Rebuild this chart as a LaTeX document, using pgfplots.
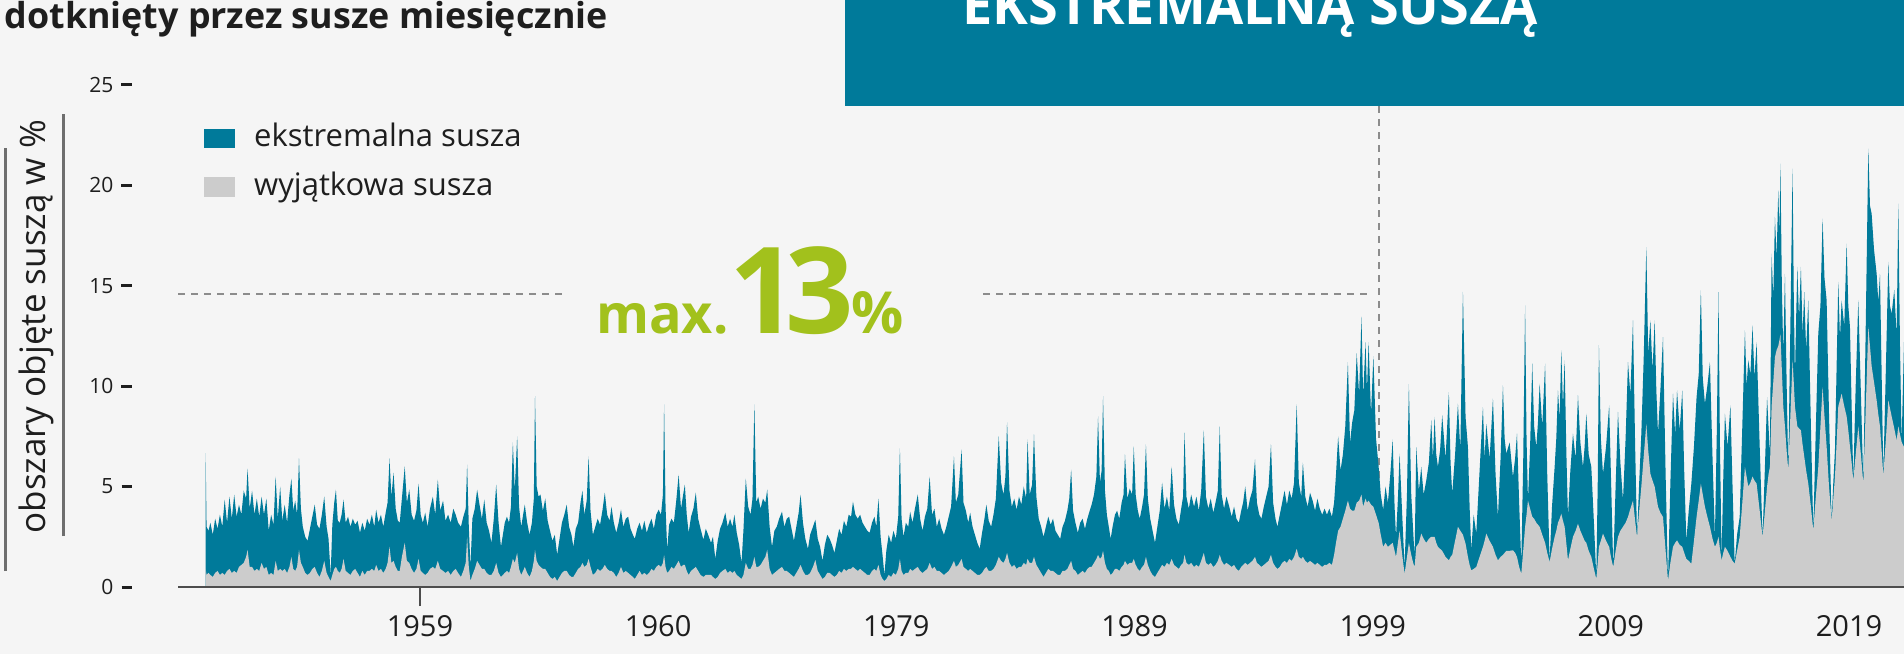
\documentclass[border=0pt]{standalone}
\usepackage{fontspec}
\setmainfont{Open Sans}
\usepackage{pgfplots}
\pgfplotsset{compat=1.18}
\usepackage{pgfplotstable}
\definecolor{bgc}{HTML}{F5F5F5}
\definecolor{tealc}{HTML}{007A9A}
\definecolor{grayc}{HTML}{CCCCCC}
\definecolor{axisc}{HTML}{4D4D4D}
\definecolor{textc}{HTML}{1E1E1E}
\definecolor{dashc}{HTML}{8C8C8C}
\definecolor{greenc}{HTML}{A2C11C}
\definecolor{vlinec}{HTML}{6E6E6E}
\pgfplotstableread{
x top bot
1950.00 6.67 0.9
1950.04 3.0 0.6
1950.12 2.8 0.7
1950.2 3.2 0.6
1950.3 2.6 0.5
1950.4 3.4 0.7
1950.5 2.9 0.8
1950.6 3.6 0.6
1950.7 3.0 0.7
1950.8 4.35 0.6
1950.9 3.2 0.8
1951.0 4.5 0.9
1951.1 3.4 0.7
1951.2 4.6 0.8
1951.3 3.5 0.7
1951.4 4.1 1.0
1951.5 3.6 1.1
1951.6 4.8 1.2
1951.7 4.4 1.5
1951.76 5.9 1.85
1951.85 3.9 1.0
1951.95 4.8 1.0
1952.05 3.6 0.8
1952.15 4.4 0.9
1952.25 3.5 0.8
1952.35 4.5 1.2
1952.45 3.6 0.9
1952.55 4.4 1.0
1952.65 2.8 0.6
1952.75 3.6 0.7
1952.85 3.1 0.6
1952.94 5.5 1.3
1953.03 3.4 0.8
1953.13 5.0 0.9
1953.22 3.3 0.8
1953.32 4.1 0.9
1953.42 3.2 0.7
1953.52 4.6 1.0
1953.6 5.4 1.5
1953.68 3.8 0.9
1953.76 4.3 0.8
1953.84 3.6 1.0
1953.92 6.4 1.85
1954.0 3.9 1.2
1954.08 3.0 1.0
1954.18 2.5 0.7
1954.28 2.3 0.6
1954.38 2.9 0.7
1954.48 3.5 0.9
1954.58 4.1 1.0
1954.68 3.1 0.7
1954.78 2.9 0.5
1954.88 3.6 0.8
1954.98 4.5 1.3
1955.08 3.0 0.7
1955.16 2.4 0.5
1955.25 0.6 0.3
1955.32 3.1 0.6
1955.4 4.2 0.9
1955.47 4.85 1.0
1955.55 3.3 0.8
1955.63 3.2 0.7
1955.71 3.6 0.9
1955.79 4.35 1.4
1955.88 3.2 0.8
1955.98 3.5 0.7
1956.08 3.0 0.6
1956.18 3.4 0.8
1956.28 3.1 0.9
1956.38 3.3 0.7
1956.48 2.7 0.5
1956.58 3.2 0.8
1956.68 2.8 0.6
1956.78 3.4 0.8
1956.88 3.1 0.8
1956.98 3.6 0.9
1957.08 3.0 0.8
1957.16 3.85 1.1
1957.26 3.2 0.8
1957.36 3.6 0.9
1957.46 3.0 0.7
1957.56 3.7 0.9
1957.64 4.2 1.2
1957.72 6.4 2.0
1957.8 4.5 1.2
1957.89 5.7 1.3
1957.98 3.9 1.0
1958.07 3.3 0.8
1958.15 3.2 0.8
1958.24 4.4 1.5
1958.36 6.0 2.2
1958.45 4.2 1.3
1958.55 4.85 1.2
1958.65 3.6 0.9
1958.75 3.3 0.7
1958.85 3.8 0.9
1958.94 5.15 1.4
1959.03 3.6 0.8
1959.12 3.2 0.7
1959.22 3.7 0.6
1959.32 3.0 0.7
1959.42 3.9 0.9
1959.54 4.5 1.0
1959.64 3.6 0.9
1959.75 5.35 1.3
1959.85 3.8 0.9
1959.97 4.3 0.8
1960.07 3.3 0.7
1960.18 3.6 0.8
1960.29 3.2 0.6
1960.4 3.9 0.8
1960.5 3.6 0.9
1960.6 3.2 0.7
1960.72 3.0 0.5
1960.82 3.5 0.8
1960.92 3.9 1.2
1960.98 6.1 2.5
1961.05 3.0 1.0
1961.12 1.0 0.3
1961.2 3.4 0.6
1961.3 3.9 0.9
1961.4 4.85 1.3
1961.5 4.1 1.1
1961.6 3.4 0.9
1961.7 4.35 0.9
1961.8 3.2 0.7
1961.9 2.8 0.6
1962.0 2.2 0.6
1962.1 3.4 0.8
1962.2 5.1 1.2
1962.3 3.2 0.7
1962.4 2.0 0.5
1962.48 2.6 0.6
1962.56 3.2 0.7
1962.65 3.5 0.8
1962.74 3.2 0.7
1962.82 4.0 1.0
1962.9 7.2 1.4
1962.98 4.8 1.2
1963.08 7.5 1.7
1963.16 4.0 0.9
1963.25 3.0 0.6
1963.33 3.6 0.8
1963.4 4.1 1.0
1963.5 3.2 0.7
1963.6 2.6 0.5
1963.7 3.2 0.8
1963.78 4.4 1.3
1963.83 9.5 1.85
1963.9 5.0 1.3
1963.98 4.5 1.1
1964.06 4.6 1.0
1964.16 3.8 0.9
1964.26 4.4 0.9
1964.36 3.3 0.7
1964.46 2.8 0.5
1964.56 2.3 0.4
1964.66 2.6 0.5
1964.76 1.6 0.3
1964.86 2.4 0.5
1964.96 3.2 0.7
1965.06 3.6 0.8
1965.16 4.1 0.8
1965.26 3.0 0.6
1965.36 2.6 0.5
1965.44 2.0 0.5
1965.54 2.9 0.7
1965.64 3.2 0.9
1965.74 4.2 1.0
1965.82 4.8 1.2
1965.9 3.6 1.0
1966.0 4.3 1.1
1966.08 6.5 1.4
1966.16 3.8 1.0
1966.26 2.6 0.6
1966.36 3.0 0.7
1966.46 3.4 0.9
1966.56 3.1 0.8
1966.66 3.8 0.9
1966.76 4.7 1.1
1966.86 3.6 0.9
1966.96 3.3 0.8
1967.04 4.0 0.8
1967.14 3.2 0.7
1967.24 2.7 0.5
1967.34 3.2 0.7
1967.44 3.85 1.0
1967.54 3.0 0.7
1967.64 3.4 0.8
1967.74 3.5 0.7
1967.84 2.9 0.6
1967.94 2.6 0.5
1968.02 2.4 0.4
1968.12 2.9 0.6
1968.22 3.2 0.8
1968.32 2.8 0.6
1968.42 3.3 0.7
1968.52 2.7 0.6
1968.62 3.1 0.7
1968.72 3.4 0.9
1968.82 2.9 0.8
1968.92 3.6 1.0
1969.02 3.85 1.1
1969.12 3.6 1.0
1969.2 4.6 1.2
1969.25 9.1 1.6
1969.31 4.0 1.0
1969.38 1.85 0.7
1969.46 3.1 0.8
1969.56 3.4 1.0
1969.66 3.2 0.9
1969.76 4.3 1.1
1969.86 5.6 1.3
1969.96 3.9 1.0
1970.05 4.6 1.1
1970.12 5.1 1.1
1970.2 3.6 0.8
1970.28 2.7 0.6
1970.38 3.5 0.8
1970.48 3.9 0.9
1970.58 4.7 1.0
1970.68 3.4 0.8
1970.78 2.9 0.6
1970.9 2.35 0.5
1971.0 2.9 0.6
1971.1 2.6 0.6
1971.22 2.2 0.6
1971.3 2.5 0.5
1971.4 1.4 0.4
1971.5 2.3 0.5
1971.6 2.9 0.7
1971.7 3.2 0.8
1971.82 3.7 0.9
1971.92 3.0 0.7
1972.02 3.4 0.8
1972.12 3.0 0.7
1972.2 3.6 0.8
1972.3 2.7 0.6
1972.4 2.1 0.5
1972.5 1.2 0.4
1972.58 2.8 0.6
1972.68 5.4 1.2
1972.78 4.0 0.9
1972.88 3.6 0.9
1972.96 4.4 1.1
1973.04 9.1 1.5
1973.12 4.2 1.0
1973.2 4.5 1.0
1973.3 3.9 1.1
1973.4 4.4 1.3
1973.5 4.2 1.5
1973.58 4.85 1.85
1973.68 3.0 0.9
1973.78 2.0 0.6
1973.88 2.8 0.7
1973.98 3.0 0.8
1974.08 3.4 0.9
1974.2 3.75 1.0
1974.3 3.0 0.8
1974.4 3.4 0.8
1974.5 3.5 0.7
1974.6 2.9 0.6
1974.7 2.3 0.5
1974.8 3.0 0.7
1974.9 3.7 0.9
1974.98 4.6 1.1
1975.08 3.2 0.8
1975.18 2.4 0.6
1975.29 1.9 0.6
1975.38 2.6 0.7
1975.5 3.0 1.0
1975.6 3.35 1.35
1975.7 2.4 0.8
1975.8 2.0 0.6
1975.9 1.3 0.4
1976.0 2.1 0.5
1976.1 2.6 0.7
1976.2 2.4 0.7
1976.3 2.1 0.6
1976.4 1.7 0.5
1976.5 2.3 0.6
1976.6 2.9 0.8
1976.7 2.6 0.7
1976.8 3.3 0.9
1976.9 3.0 0.8
1977.0 3.6 0.9
1977.1 3.5 0.9
1977.18 4.25 1.0
1977.28 3.6 0.9
1977.38 3.4 0.8
1977.48 3.6 0.9
1977.58 3.2 0.8
1977.68 3.0 0.7
1977.78 2.8 0.6
1977.88 2.7 0.6
1977.98 3.2 0.8
1978.08 3.5 0.9
1978.16 3.0 0.8
1978.25 4.4 1.1
1978.34 2.5 0.6
1978.42 1.6 0.4
1978.5 0.6 0.3
1978.58 1.8 0.4
1978.68 2.6 0.6
1978.78 2.2 0.5
1978.88 2.8 0.7
1978.98 2.4 0.6
1979.08 3.5 0.9
1979.15 6.9 1.4
1979.22 3.4 0.8
1979.3 2.5 0.6
1979.4 3.2 0.7
1979.5 3.0 0.7
1979.58 3.75 0.9
1979.68 3.2 0.8
1979.78 3.9 0.9
1979.9 4.6 1.0
1980.0 3.4 0.8
1980.1 2.8 0.7
1980.2 3.5 0.8
1980.3 3.9 0.9
1980.4 5.5 1.2
1980.5 3.6 0.9
1980.6 3.9 1.0
1980.7 3.0 0.8
1980.8 3.4 0.8
1980.9 2.9 0.7
1981.0 2.6 0.6
1981.1 3.0 0.7
1981.2 3.5 0.8
1981.3 4.0 1.0
1981.42 6.5 1.3
1981.5 4.2 1.0
1981.6 4.6 1.1
1981.74 6.85 1.4
1981.82 4.2 1.0
1981.92 3.8 0.9
1982.02 3.2 0.8
1982.1 3.7 0.9
1982.2 3.0 0.8
1982.3 2.6 0.7
1982.4 2.2 0.6
1982.5 1.9 0.6
1982.6 2.7 0.7
1982.7 3.4 0.9
1982.78 4.1 1.0
1982.88 3.3 0.8
1982.98 3.0 0.8
1983.08 3.6 0.9
1983.18 4.4 1.1
1983.3 7.5 1.5
1983.4 5.2 1.3
1983.5 4.6 1.2
1983.58 5.5 1.4
1983.65 8.2 1.7
1983.75 4.8 1.2
1983.85 4.0 1.0
1983.95 4.4 1.1
1984.05 3.85 0.9
1984.15 4.5 1.0
1984.25 4.1 1.0
1984.35 5.0 1.2
1984.45 4.4 1.1
1984.51 7.35 1.4
1984.6 4.6 1.2
1984.7 5.1 1.2
1984.78 7.6 1.5
1984.88 4.5 1.1
1984.98 3.4 0.9
1985.08 3.0 0.7
1985.18 2.5 0.5
1985.28 3.0 0.7
1985.38 3.5 0.9
1985.48 3.1 0.8
1985.58 3.4 0.8
1985.68 2.8 0.7
1985.78 2.6 0.6
1985.88 2.4 0.6
1985.98 3.0 0.8
1986.08 3.3 0.8
1986.18 3.8 0.9
1986.26 4.4 1.1
1986.34 5.85 1.3
1986.42 3.8 0.9
1986.52 3.2 0.8
1986.62 2.7 0.6
1986.72 3.2 0.7
1986.82 3.4 0.8
1986.92 2.9 0.7
1987.02 3.4 0.9
1987.12 3.8 1.0
1987.2 4.1 1.0
1987.3 4.6 1.2
1987.4 5.5 1.4
1987.47 8.5 1.6
1987.55 5.2 1.4
1987.62 5.8 1.5
1987.68 9.5 1.8
1987.76 4.8 1.2
1987.84 3.6 0.9
1987.92 3.0 0.8
1988.0 2.4 0.6
1988.08 3.0 0.7
1988.18 3.6 0.9
1988.27 3.8 0.9
1988.36 3.4 0.8
1988.46 4.2 1.0
1988.54 4.6 1.1
1988.6 6.6 1.3
1988.7 4.4 1.1
1988.8 4.9 1.2
1988.9 4.6 1.2
1988.97 7.0 1.4
1989.05 4.6 1.1
1989.14 3.8 0.9
1989.22 3.4 0.8
1989.32 4.0 1.0
1989.4 4.6 1.1
1989.48 7.1 1.5
1989.56 4.4 1.1
1989.66 3.4 0.8
1989.76 2.8 0.6
1989.86 2.2 0.5
1989.96 3.0 0.7
1990.06 3.8 0.9
1990.16 5.2 1.1
1990.26 3.9 1.0
1990.36 4.5 1.2
1990.46 3.8 1.1
1990.56 6.0 1.4
1990.66 4.1 1.1
1990.76 3.4 1.0
1990.86 3.1 0.9
1990.96 3.9 1.1
1991.04 4.5 1.2
1991.1 7.7 1.6
1991.18 4.5 1.2
1991.28 3.9 1.1
1991.38 4.6 1.2
1991.5 4.0 1.0
1991.6 4.5 1.1
1991.7 3.8 1.0
1991.8 4.8 1.3
1991.91 7.8 1.7
1992.0 4.5 1.2
1992.1 3.9 1.1
1992.2 4.4 1.2
1992.31 3.7 1.0
1992.4 4.2 1.1
1992.5 4.8 1.3
1992.58 8.0 1.6
1992.66 4.6 1.3
1992.76 3.9 1.1
1992.86 4.5 1.2
1992.98 4.0 1.1
1993.08 3.5 1.0
1993.18 4.0 1.1
1993.28 3.4 0.9
1993.38 3.2 0.8
1993.48 3.8 1.0
1993.56 4.2 1.1
1993.65 5.0 1.2
1993.75 3.8 1.1
1993.85 4.4 1.2
1993.95 4.8 1.3
1994.06 6.35 1.5
1994.14 4.2 1.2
1994.24 3.6 1.1
1994.33 3.4 1.0
1994.43 4.0 1.1
1994.53 4.5 1.2
1994.63 5.0 1.3
1994.73 7.1 1.6
1994.82 4.2 1.2
1994.92 3.4 1.0
1995.0 3.0 0.9
1995.1 3.6 1.0
1995.2 4.2 1.2
1995.3 4.8 1.3
1995.4 4.1 1.2
1995.5 4.8 1.4
1995.6 4.4 1.3
1995.7 5.2 1.5
1995.81 9.1 1.9
1995.9 5.2 1.5
1996.0 4.5 1.4
1996.07 6.2 1.5
1996.17 4.5 1.3
1996.27 4.0 1.2
1996.37 4.7 1.3
1996.48 4.3 1.2
1996.58 3.8 1.1
1996.68 4.4 1.2
1996.78 3.9 1.1
1996.88 3.6 1.0
1996.98 3.9 1.1
1997.08 3.6 1.1
1997.18 3.9 1.2
1997.29 3.5 1.1
1997.38 4.2 1.6
1997.46 5.6 2.2
1997.55 7.5 2.8
1997.65 5.8 3.0
1997.75 6.6 3.4
1997.85 8.0 3.8
1997.96 11.2 4.3
1998.05 7.2 3.9
1998.14 8.2 3.8
1998.23 8.8 3.8
1998.33 11.65 4.2
1998.43 9.6 4.3
1998.53 13.46 4.6
1998.6 9.5 4.0
1998.7 12.2 4.4
1998.76 9.8 4.2
1998.83 12.2 4.3
1998.93 8.6 4.1
1999.03 11.5 4.0
1999.14 7.4 3.6
1999.25 6.0 3.2
1999.34 4.6 2.6
1999.44 3.85 2.0
1999.54 5.0 2.2
1999.64 4.2 2.0
1999.74 5.6 2.1
1999.84 7.35 2.2
1999.92 4.0 1.8
1999.98 2.5 1.5
2000.06 4.4 2.2
2000.13 6.64 2.8
2000.24 3.6 1.6
2000.34 1.0 0.66
2000.44 4.6 1.5
2000.52 10.1 2.2
2000.62 4.6 1.6
2000.7 2.8 1.2
2000.76 1.5 1.0
2000.83 6.97 2.0
2000.94 4.8 2.2
2001.04 5.98 2.66
2001.14 4.6 2.4
2001.25 5.3 2.2
2001.36 6.2 2.4
2001.46 8.3 2.5
2001.53 6.4 2.5
2001.6 8.47 2.5
2001.67 6.6 2.2
2001.74 5.98 2.0
2001.83 6.8 1.9
2001.92 8.55 1.8
2002.06 6.4 1.5
2002.2 9.7 1.33
2002.27 6.2 1.5
2002.34 4.65 1.6
2002.46 6.6 2.3
2002.58 9.13 3.0
2002.68 6.8 2.8
2002.79 14.7 2.6
2002.9 8.47 2.16
2003.0 6.97 1.5
2003.07 4.0 1.1
2003.14 1.83 0.83
2003.24 3.6 0.9
2003.35 2.66 1.0
2003.49 5.8 1.5
2003.63 8.96 2.0
2003.7 6.4 2.3
2003.77 8.13 2.66
2003.91 6.4 2.3
2004.05 9.38 2.0
2004.16 5.6 1.6
2004.26 3.49 1.33
2004.37 6.4 1.5
2004.47 10.04 1.6
2004.54 7.4 1.7
2004.61 6.64 1.8
2004.75 7.2 1.8
2004.89 5.48 1.83
2004.98 6.4 1.7
2005.06 7.64 1.5
2005.15 4.2 1.0
2005.24 1.16 0.66
2005.32 6.2 1.8
2005.4 14.03 3.0
2005.46 7.4 3.6
2005.52 4.32 4.3
2005.61 7.0 3.9
2005.7 11.12 3.5
2005.78 8.0 3.4
2005.87 6.97 3.2
2005.94 8.2 3.1
2006.01 10.13 3.0
2006.12 8.0 2.6
2006.24 11.12 2.2
2006.33 5.6 1.7
2006.43 1.33 1.25
2006.53 4.0 1.9
2006.64 5.98 2.5
2006.71 7.4 2.8
2006.78 9.79 3.2
2006.85 8.4 3.4
2006.92 11.79 3.65
2006.99 9.0 3.3
2007.06 11.29 3.0
2007.13 6.8 2.2
2007.2 3.49 1.33
2007.3 5.8 1.9
2007.41 7.64 2.5
2007.52 6.4 2.8
2007.62 9.55 3.15
2007.72 7.2 2.8
2007.83 5.98 2.5
2007.9 7.0 2.3
2007.97 8.63 2.2
2008.07 6.6 1.8
2008.18 5.98 1.5
2008.29 3.2 0.9
2008.39 0.5 0.4
2008.45 5.2 1.2
2008.5 12.04 2.0
2008.58 7.4 2.3
2008.67 5.64 2.66
2008.8 7.0 2.3
2008.93 9.05 2.0
2009.02 4.8 1.4
2009.1 1.0 1.0
2009.2 5.0 1.8
2009.3 8.72 2.5
2009.4 6.2 2.8
2009.51 4.32 3.0
2009.62 7.4 3.2
2009.72 11.2 3.49
2009.82 9.6 3.9
2009.93 13.28 4.3
2010.02 7.0 3.3
2010.1 2.49 2.49
2010.19 5.2 3.8
2010.28 7.64 5.0
2010.38 11.4 6.5
2010.49 16.93 8.13
2010.57 11.6 6.8
2010.66 13.28 5.64
2010.75 10.8 5.3
2010.84 13.28 5.0
2010.91 9.8 4.5
2010.98 7.64 4.0
2011.08 9.8 3.7
2011.19 12.45 3.49
2011.3 5.6 1.8
2011.4 0.33 0.33
2011.5 5.2 1.2
2011.61 9.63 2.0
2011.7 7.6 2.2
2011.78 9.79 2.32
2011.89 7.8 2.1
2012.0 9.79 2.0
2012.08 5.8 1.7
2012.17 2.32 1.4
2012.27 3.8 1.3
2012.38 5.15 1.16
2012.49 7.0 2.3
2012.6 9.46 3.5
2012.69 10.6 4.3
2012.78 14.77 5.15
2012.86 10.4 4.6
2012.95 9.13 4.0
2013.05 10.0 3.5
2013.16 11.2 3.0
2013.27 6.4 2.4
2013.37 2.49 2.0
2013.45 7.8 2.2
2013.52 14.69 2.5
2013.58 7.2 1.9
2013.65 1.5 1.33
2013.72 5.4 1.7
2013.79 8.63 2.0
2013.9 7.0 1.8
2014.02 9.05 1.5
2014.11 5.0 1.3
2014.2 1.16 1.16
2014.3 2.6 1.8
2014.41 3.49 2.5
2014.52 8.0 4.2
2014.63 12.78 5.98
2014.7 10.0 5.5
2014.77 11.29 5.0
2014.86 10.6 5.2
2014.95 13.03 5.5
2015.03 10.4 5.3
2015.12 12.2 5.15
2015.25 7.0 3.8
2015.37 2.49 2.49
2015.47 6.0 3.8
2015.56 9.46 5.0
2015.62 8.0 5.6
2015.68 6.64 6.0
2015.75 16.6 9.0
2015.82 14.4 10.2
2015.89 18.43 11.45
2015.96 16.4 11.8
2016.03 19.75 12.0
2016.08 17.6 12.3
2016.12 21.08 12.6
2016.18 15.0 10.8
2016.24 11.62 9.0
2016.31 15.6 8.0
2016.38 10.2 6.8
2016.45 5.81 5.81
2016.54 13.2 8.6
2016.63 20.83 11.3
2016.68 14.6 10.2
2016.73 10.46 9.0
2016.78 13.4 8.5
2016.83 15.94 8.0
2016.9 13.4 7.9
2016.98 15.94 7.8
2017.05 12.6 7.1
2017.12 14.69 6.5
2017.2 11.8 5.8
2017.29 14.28 5.15
2017.4 8.0 4.0
2017.5 2.82 2.82
2017.6 7.6 4.4
2017.71 12.62 5.98
2017.8 14.0 8.0
2017.89 18.34 9.96
2017.97 15.4 8.5
2018.06 14.28 7.0
2018.16 8.6 5.0
2018.27 3.32 3.32
2018.34 5.2 4.4
2018.41 6.81 5.5
2018.48 11.0 7.2
2018.55 15.19 9.0
2018.62 12.4 9.3
2018.69 14.28 9.63
2018.8 13.0 9.0
2018.9 17.1 8.5
2018.97 14.0 7.8
2019.04 12.95 7.0
2019.11 9.0 6.2
2019.18 5.31 5.31
2019.28 10.0 6.6
2019.39 14.28 8.0
2019.5 9.6 6.6
2019.6 5.15 5.15
2019.7 12.8 8.8
2019.81 21.83 12.95
2019.88 19.0 12.0
2019.95 18.59 11.0
2020.05 16.8 10.2
2020.16 15.6 9.3
2020.23 14.2 8.6
2020.3 15.6 8.0
2020.37 10.6 6.8
2020.44 5.56 5.56
2020.55 11.0 7.4
2020.65 16.19 9.3
2020.72 14.0 8.9
2020.79 13.61 8.5
2020.9 14.8 7.9
2021.0 12.53 7.3
2021.07 19.09 8.0
2021.14 12.0 7.6
2021.21 7.22 7.22
2021.31 12.28 6.97
}\drought
\newcommand\ydash{\hspace{8pt}\rule[6pt]{10.6pt}{3pt}}
\begin{document}
\begin{tikzpicture}
\clip (0pt,0pt) rectangle (1904pt,654pt);
\fill[bgc] (0pt,0pt) rectangle (1904pt,654pt);
\draw[dashc, line width=2pt, dash pattern=on 7pt off 6pt] (1379pt,547.5pt) -- (1379pt,67pt);
\begin{axis}[
  at={(178pt,67pt)}, anchor=south west,
  scale only axis, width=1726pt, height=502pt,
  xmin=1948.84, xmax=2021.31, ymin=0, ymax=25,
  axis on top,
  axis x line=bottom, axis y line=left,
  x axis line style={-, draw=axisc, line width=1.8pt},
  y axis line style={draw=none},
  xtick={1959,1969,1979,1989,1999,2009,2019},
  xticklabels={1959,1960,1979,1989,1999,2009,2019},
  ytick={0,5,10,15,20,25},
  yticklabels={{0\ydash},{5\ydash},{10\ydash},{15\ydash},{20\ydash},{25\ydash}},
  major tick length=0pt,
  extra x ticks={1959}, extra x tick labels={},
  extra x tick style={major tick length=19pt, tick align=outside, tick style={draw=axisc, line width=1.5pt}},
  xticklabel style={font=\fontsize{29}{32}\selectfont, text=textc, anchor=base, yshift=-49.7pt, inner sep=0pt},
  yticklabel style={font=\fontsize{21}{24}\selectfont, text=textc, anchor=east, xshift=-45.7pt, inner sep=0pt},
]
\addplot[fill=tealc, draw=none] table[x=x, y=top] {\drought} \closedcycle;
\addplot[fill=grayc, draw=none] table[x=x, y=bot] {\drought} \closedcycle;
\end{axis}
\draw[dashc, line width=2pt, dash pattern=on 7pt off 6pt] (178pt,359.7pt) -- (567pt,359.7pt);
\draw[dashc, line width=2pt, dash pattern=on 7pt off 6pt] (983pt,359.7pt) -- (1372pt,359.7pt);
% legend
\fill[tealc] (204pt,505.5pt) rectangle (235pt,525pt);
\fill[grayc] (204pt,457pt) rectangle (235pt,476.5pt);
\node[anchor=base west, inner sep=0pt, text=textc, font=\fontsize{31}{36}\selectfont] at (254pt,507pt) {ekstremalna susza};
\node[anchor=base west, inner sep=0pt, text=textc, font=\fontsize{31}{36}\selectfont] at (254pt,458pt) {wyjątkowa susza};
% y label and lines
\node[rotate=90, anchor=base, inner sep=0pt, text=textc, font=\fontsize{35}{40}\selectfont] at (45.2pt,327.2pt) {obszary objęte suszą w \%};
\draw[vlinec, line width=2.5pt] (5.5pt,83pt) -- (5.5pt,506pt);
\draw[vlinec, line width=2.5pt] (63.5pt,118pt) -- (63.5pt,539.5pt);
% title
\node[anchor=base west, inner sep=0pt, text=textc, font=\fontsize{35.8}{40}\selectfont\bfseries] at (4.5pt,625.7pt) {dotknięty przez susze miesięcznie};
% max 13%
\node[anchor=base west, inner sep=0pt, text=greenc, font=\fontsize{54}{60}\selectfont\bfseries] at (596pt,320.7pt) {max.};
\node[anchor=base west, inner sep=0pt, text=greenc, font=\fontsize{120}{124}\selectfont\bfseries] at (729pt,320.7pt) {1\kern-0.1em 3\kern-3pt{\fontsize{58}{60}\selectfont\%}};
% header box
\fill[tealc] (845pt,547.5pt) rectangle (1904pt,654pt);
\node[anchor=base west, inner sep=0pt, text=white, font=\fontsize{54}{60}\selectfont\bfseries] at (962pt,629pt) {EKSTREMALNĄ SUSZĄ};
\end{tikzpicture}
\end{document}
